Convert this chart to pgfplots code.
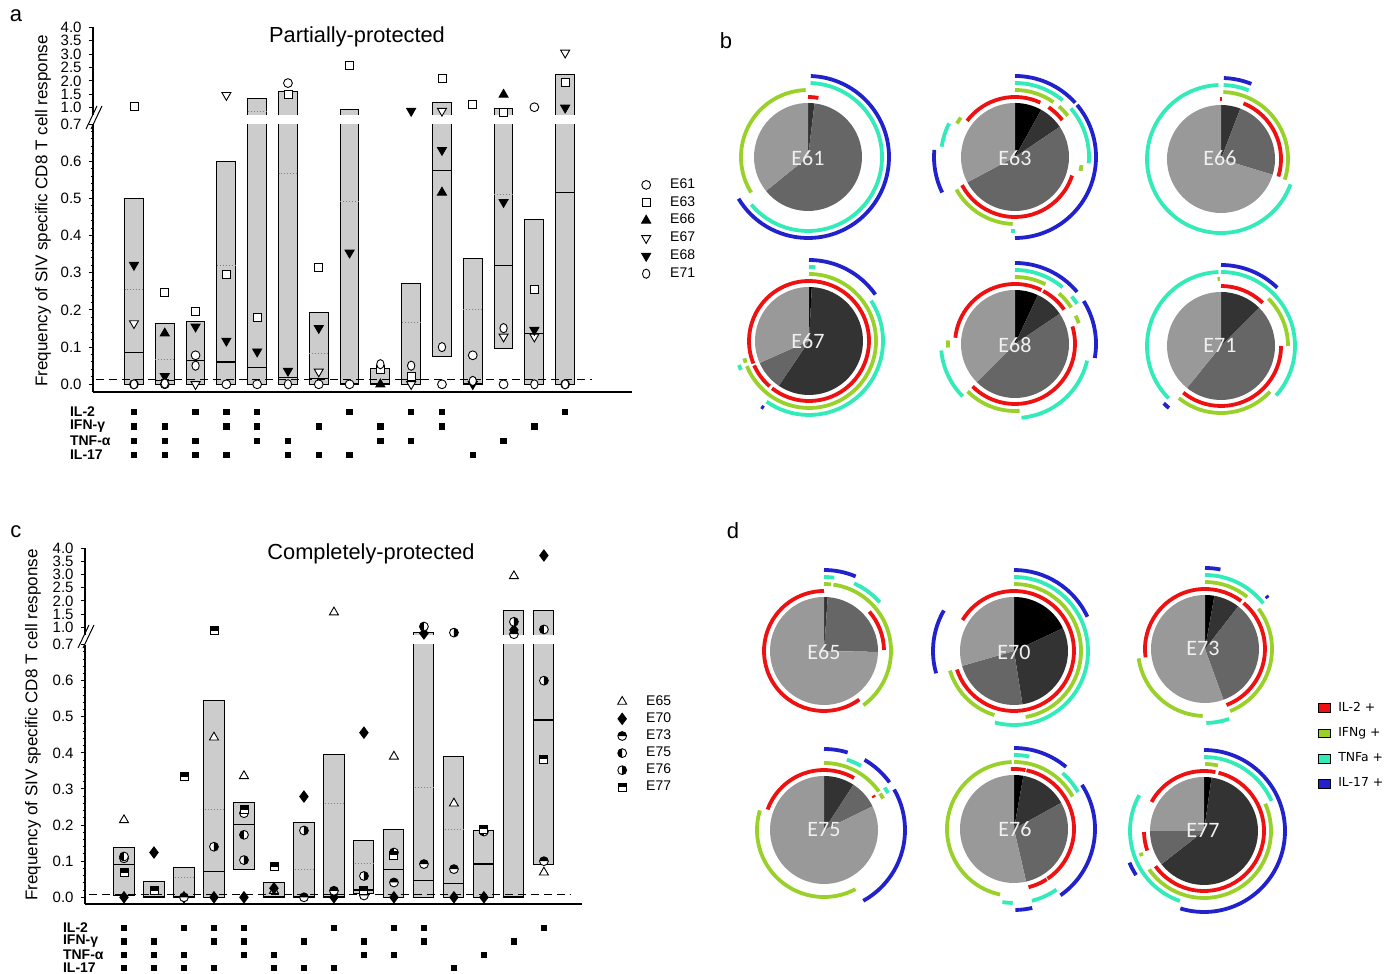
\documentclass[border=0pt]{standalone}
\usepackage{fontspec}
\setmainfont{Liberation Sans}
\newfontfamily\carlito{Carlito}
\newfontfamily\dejavu{DejaVu Sans}
\usepackage{pgfplots}
\usepackage{pgfplotstable}
\pgfplotsset{compat=1.18}
\usepgfplotslibrary{statistics}

\definecolor{barfill}{HTML}{CCCCCC}
\definecolor{cR}{HTML}{EE1111}
\definecolor{cG}{HTML}{99D12A}
\definecolor{cC}{HTML}{33EBB8}
\definecolor{cB}{HTML}{2222CC}
\definecolor{wk}{HTML}{000000}
\definecolor{wd}{HTML}{333333}
\definecolor{wm}{HTML}{666666}
\definecolor{wl}{HTML}{999999}
\definecolor{labcol}{HTML}{F0F0F0}

% custom marks
\pgfdeclareplotmark{ell}{%
  \pgfpathellipse{\pgfpointorigin}{\pgfqpoint{0.8\pgfplotmarksize}{0pt}}{\pgfqpoint{0pt}{\pgfplotmarksize}}%
  \pgfusepathqfillstroke}
\pgfdeclareplotmark{htop}{%
  \pgfpathcircle{\pgfpointorigin}{\pgfplotmarksize}%
  \pgfsetfillcolor{white}\pgfusepathqfillstroke
  \pgfpathmoveto{\pgfqpoint{\pgfplotmarksize}{0pt}}%
  \pgfpatharc{0}{180}{\pgfplotmarksize}\pgfpathclose
  \pgfsetfillcolor{black}\pgfusepathqfill}
\pgfdeclareplotmark{hleft}{%
  \pgfpathcircle{\pgfpointorigin}{\pgfplotmarksize}%
  \pgfsetfillcolor{white}\pgfusepathqfillstroke
  \pgfpathmoveto{\pgfqpoint{0pt}{\pgfplotmarksize}}%
  \pgfpatharc{90}{270}{\pgfplotmarksize}\pgfpathclose
  \pgfsetfillcolor{black}\pgfusepathqfill}
\pgfdeclareplotmark{hright}{%
  \pgfpathcircle{\pgfpointorigin}{\pgfplotmarksize}%
  \pgfsetfillcolor{white}\pgfusepathqfillstroke
  \pgfpathmoveto{\pgfqpoint{0pt}{-\pgfplotmarksize}}%
  \pgfpatharc{-90}{90}{\pgfplotmarksize}\pgfpathclose
  \pgfsetfillcolor{black}\pgfusepathqfill}
\pgfdeclareplotmark{sqtop}{%
  \pgfpathrectangle{\pgfqpoint{-\pgfplotmarksize}{-\pgfplotmarksize}}{\pgfqpoint{2\pgfplotmarksize}{2\pgfplotmarksize}}%
  \pgfsetfillcolor{white}\pgfusepathqfillstroke
  \pgfpathrectangle{\pgfqpoint{-\pgfplotmarksize}{0pt}}{\pgfqpoint{2\pgfplotmarksize}{\pgfplotmarksize}}%
  \pgfsetfillcolor{black}\pgfusepathqfill}

% ---- panel a data
\pgfplotstableread{
x lo hi med
1 0 0.50 0.085
2 0 0.163 0.01
3 0 0.169 0.064
4 0 0.598 0.06
5 0 1.34 0.045
6 0 1.59 0.018
7 0 0.194 0.015
8 0 0.94 0.003
9 0 0.042 0.002
10 0 0.271 0.012
11 0.074 1.20 0.575
12 0 0.339 0.003
13 0.097 0.975 0.32
14 0 0.444 0.137
15 0 2.23 0.516
}\barsA
\pgfplotstableread{
x m
1 0.254
2 0.067
4 0.319
5 0.853
6 0.567
7 0.083
8 0.491
10 0.167
12 0.20
13 0.511
}\meanA
\pgfplotstableread{
x y
1 0
2 0
3 0.078
4 0
5 0
6 1.92
7 0
8 0
11 0
12 0.078
13 0
14 1.02
15 0
}\aEA
\pgfplotstableread{
x y
1 1.04
2 0.247
3 0.197
4 0.296
5 0.179
6 1.49
7 0.314
8 2.59
9 0.04
10 0.021
11 2.08
12 1.12
13 0.83
14 0.254
15 1.96
}\aEB
\pgfplotstableread{
x y
2 0.137
9 0.0
11 0.516
13 1.49
}\aEC
\pgfplotstableread{
x y
1 0.164
3 0.0
4 1.47
7 0.034
10 0.0
11 0.88
13 0.128
14 0.128
15 3.05
}\aED
\pgfplotstableread{
x y
1 0.321
2 0.022
3 0.155
4 0.117
5 0.088
6 0.036
7 0.151
8 0.354
10 0.88
11 0.63
12 0.0
13 0.49
14 0.146
15 1.0
}\aEE
\pgfplotstableread{
x y
1 0
2 0.002
3 0.05
6 0
9 0.054
10 0.05
11 0.10
12 0.009
13 0.151
14 0
15 0
}\aEF

% ---- panel c data
\pgfplotstableread{
x lo hi med
1 0.005 0.138 0.09
2 0 0.043 0.001
3 0 0.082 0.001
4 0 0.544 0.071
5 0.077 0.262 0.202
6 0 0.04 0.001
7 0 0.206 0.001
8 0 0.395 0.001
9 0.01 0.158 0.02
10 0 0.188 0.078
11 0 0.80 0.047
12 0 0.39 0.039
13 0 0.185 0.092
14 0 1.63 0.001
15 0.09 1.63 0.491
}\barsC
\pgfplotstableread{
x m
3 0.055
4 0.242
7 0.078
8 0.259
9 0.094
11 0.304
12 0.188
}\meanC
\pgfplotstableread{
x y
1 0.214
4 0.443
5 0.336
6 0.018
8 1.57
10 0.39
12 0.26
14 2.94
15 0.069
}\cEA
\pgfplotstableread{
x y
1 0
2 0.124
3 0
4 0
5 0
6 0.025
7 0.279
8 0
9 0.456
10 0
11 0.77
12 0
13 0
14 0.9
15 3.72
}\cEB
\pgfplotstableread{
x y
1 0.108
3 0
5 0.233
7 0
8 0.018
9 0.005
10 0.041
11 0.092
12 0.078
14 0.74
15 0.1
}\cEC
\pgfplotstableread{
x y
1 0.113
5 0.173
10 0.124
11 1.03
13 0.182
15 0.92
}\cED
\pgfplotstableread{
x y
4 0.14
5 0.103
7 0.185
9 0.059
12 0.8
14 1.21
15 0.6
}\cEE
\pgfplotstableread{
x y
1 0.068
2 0.018
3 0.334
4 0.87
5 0.242
6 0.085
9 0.018
10 0.117
13 0.188
15 0.382
}\cEF

% ---- pies: centres (px), wedges and arcs (degrees clockwise from 12 o'clock)
\pgfplotstableread{
cx cy
808 157
1015 157
1221 159
809 341
1015 344
1221 346
824 651
1014 651
1205 649
824 830
1014 829
1204 831
}\pies
\pgfplotstableread{
p a b s
0 0 7 wd
0 7 231 wm
0 231 360 wl
1 0 29 wk
1 29 56 wd
1 56 242 wm
1 242 360 wl
2 0 21 wd
2 21 107 wm
2 107 360 wl
3 0 3 wk
3 3 214 wd
3 214 246 wm
3 246 360 wl
4 0 25 wk
4 25 56 wd
4 56 225 wm
4 225 360 wl
5 0 45 wd
5 45 219 wm
5 219 360 wl
6 0 4 wd
6 4 91 wm
6 91 360 wl
7 0 65 wk
7 65 171 wd
7 171 254 wm
7 254 360 wl
8 0 10 wk
8 10 38 wd
8 38 160 wm
8 160 360 wl
9 0 33 wd
9 33 64 wm
9 64 360 wl
10 0 10 wk
10 10 61 wd
10 61 167 wm
10 167 360 wl
11 0 8 wk
11 8 232 wd
11 232 270 wm
11 270 360 wl
}\wedges
\pgfplotstableread{
p r a b c
0 1 0 10 cR
0 2 238 358 cG
0 3 2 230 cC
0 4 2 239 cB
1 4 0 48 cB
1 3 0 40 cC
1 3 49 95 cC
1 2 0 35 cG
1 2 41 52 cG
1 2 97 102 cG
1 2 300 306 cG
1 2 182 241 cG
1 1 307 385 cR
1 1 34 52 cR
1 1 108 242 cR
1 4 244 275 cB
1 3 278 297 cC
1 4 50 180 cB
1 3 180 183 cC
2 4 2 22 cB
2 3 2 22 cC
2 3 110 358 cC
2 2 2 108 cG
2 1 22 107 cR
2 1 359 361 cR
3 4 0 55 cB
3 3 0 5 cC
3 2 0 248 cG
3 1 248 578 cR
3 1 221 246 cR
3 3 57 215 cC
3 3 247 251 cC
3 2 251 255 cG
3 4 214 216 cB
4 4 0 50 cB
4 3 0 40 cC
4 3 50 57 cC
4 2 0 27 cG
4 2 41 57 cG
4 2 65 72 cG
4 1 276 386 cR
4 1 28 55 cR
4 1 73 225 cR
4 4 58 100 cB
4 3 103 175 cC
4 2 176 225 cG
4 2 267 273 cG
4 3 225 265 cC
5 4 0 44 cB
5 3 0 132 cC
5 3 225 358 cC
5 2 357 359 cG
5 2 45 90 cG
5 2 133 219 cG
5 1 0 44 cR
5 1 90 219 cR
5 4 220 225 cB
6 4 0 23 cB
6 3 0 8 cC
6 3 24 49 cC
6 2 0 6 cG
6 2 8 144 cG
6 1 144 360 cR
6 1 49 89 cR
7 4 0 65 cB
7 3 0 195 cC
7 2 0 170 cG
7 2 197 253 cG
7 1 301 612 cR
7 4 254 300 cB
8 4 0 11 cB
8 3 0 52 cC
8 3 161 179 cC
8 2 0 39 cG
8 2 53 158 cG
8 2 182 262 cG
8 1 262 397 cR
8 1 40 159 cR
8 4 49 51 cB
9 4 0 17 cB
9 4 30 54 cB
9 4 60 151 cB
9 3 18 30 cC
9 3 55 60 cC
9 2 0 55 cG
9 2 57 62 cG
9 2 152 287 cG
9 1 290 390 cR
9 1 55 57 cR
10 4 0 40 cB
10 4 57 145 cB
10 4 167 179 cB
10 3 0 12 cC
10 3 41 60 cC
10 3 145 166 cC
10 3 181 189 cC
10 2 0 61 cG
10 2 192 358 cG
10 1 357 371 cR
10 1 12 146 cR
10 1 147 166 cR
11 4 0 197 cB
11 4 237 247 cB
11 3 0 66 cC
11 3 199 299 cC
11 2 1 12 cG
11 2 66 235 cG
11 2 248 251 cG
11 1 299 371 cR
11 1 14 234 cR
11 1 251 269 cR
}\arcs
\pgfplotstablegetrowsof{\wedges}\pgfmathtruncatemacro\nW{\pgfplotsretval-1}
\pgfplotstablegetrowsof{\arcs}\pgfmathtruncatemacro\nA{\pgfplotsretval-1}

% floating bars (min-max box with median line) from a table
\newcommand\drawbars[1]{%
  \pgfplotstablegetrowsof{#1}\pgfmathtruncatemacro\nB{\pgfplotsretval-1}%
  \pgfplotsforeachungrouped \j in {0,...,\nB}{%
    \pgfplotstablegetelem{\j}{x}\of#1\edef\bx{\pgfplotsretval}%
    \pgfplotstablegetelem{\j}{lo}\of#1\edef\blo{\pgfplotsretval}%
    \pgfplotstablegetelem{\j}{hi}\of#1\edef\bhi{\pgfplotsretval}%
    \pgfplotstablegetelem{\j}{med}\of#1\edef\bmed{\pgfplotsretval}%
    \edef\temp{\noexpand\addplot[boxplot prepared={draw position=\bx,
      lower whisker=\blo, lower quartile=\blo, median=\bmed,
      upper quartile=\bhi, upper whisker=\bhi}, draw=black, fill=barfill,
      forget plot] coordinates {};}%
    \temp}}

\pgfplotsset{
  tickfont/.style={tick label style={font=\fontsize{7.5}{8}\selectfont},
    /pgf/number format/assume math mode=true},
  boxstyle/.style={boxplot/draw direction=y,
    boxplot/every box/.style={draw=black, fill=barfill, line width=0.5pt},
    boxplot/every median/.style={draw=black, line width=0.6pt},
    boxplot/every whisker/.style={draw=none}, boxplot/whisker extend=0},
  common/.style={scale only axis, anchor=south west, xtick=\empty, tick align=outside,
    major tick length=2.2pt, minor tick length=1.2pt, tickfont, boxstyle,
    axis line style={line width=0.6pt}, tick style={black, line width=0.5pt},
    yticklabel style={/pgf/number format/.cd, fixed, fixed zerofill, precision=1}},
  lowbase/.style={common, axis x line*=bottom, axis y line*=left,
    ytick={0,0.1,0.2,0.3,0.4,0.5,0.6,0.7}, minor y tick num=4},
  upbase/.style={common, axis x line=none, axis y line*=left,
    ytick={1,1.5,2,2.5,3,3.5,4}},
  rowbase/.style={scale only axis, anchor=south west, ymin=0.5, ymax=4.5,
    axis line style={draw=none}, xtick=\empty, ytick={1,2,3,4},
    yticklabels={IL-17,TNF-α,IFN-γ,IL-2}, major tick length=0pt,
    yticklabel style={anchor=west, font=\bfseries\fontsize{7}{8}\selectfont}, clip=false},
  mk/.style={only marks, black, line width=0.45pt},
  lowmk/.style={restrict y to domain=-1:0.7},
  upmk/.style={restrict y to domain=0.7:5},
  meanln/.style={only marks, mark=-, mark options={gray, densely dotted, line width=0.5pt}},
  mEA/.style={mark=*, mark size=2.2pt, mark options={fill=white}},
  mEB/.style={mark=square*, mark size=2pt, mark options={fill=white}},
  mEC/.style={mark=triangle*, mark size=2.6pt, mark options={fill=black}},
  mED/.style={mark=triangle*, mark size=2.6pt, mark options={fill=white, rotate=180}},
  mEE/.style={mark=triangle*, mark size=2.6pt, mark options={fill=black, rotate=180}},
  mEF/.style={mark=ell, mark size=2.3pt, mark options={fill=white}},
  nEA/.style={mark=triangle*, mark size=2.6pt, mark options={fill=white}},
  nEB/.style={mark=diamond*, mark size=2.8pt, mark options={fill=black}},
  nEC/.style={mark=htop, mark size=2.2pt},
  nED/.style={mark=hleft, mark size=2.2pt},
  nEE/.style={mark=hright, mark size=2.2pt},
  nEF/.style={mark=sqtop, mark size=2pt},
  leg/.style={legend style={draw=none, fill=none, inner sep=0pt,
    font=\fontsize{7}{8}\selectfont, nodes={inner ysep=0.5pt}}, legend cell align=left,
    legend image code/.code={\path[draw=none, fill=none] (0pt,0pt) -- (13pt,0pt);
      \draw[##1] plot coordinates {(3pt,0pt)};}},
}

\begin{document}
\begin{tikzpicture}
% ================= panel a
\begin{axis}[lowbase, at={(46.5pt,291pt)}, width=269.5pt, height=133.95pt,
  xmin=-0.33, xmax=17.17, ymin=-0.0207, ymax=0.7, boxplot/box extend=0.61,
  leg, legend style={at={(1.0144,0.802)}, anchor=north west, row sep=1.5pt}]
\drawbars{\barsA}
\addplot[meanln, mark size=4.7pt, lowmk, forget plot] table[x=x,y=m]{\meanA};
\addplot[black, dash pattern=on 4pt off 2.5pt, line width=0.5pt, forget plot]
  coordinates {(-0.23,0.0135) (15.87,0.0135)};
\addplot[mk, mEA, lowmk] table{\aEA}; \addlegendentry{E61}
\addplot[mk, mEB, lowmk] table{\aEB}; \addlegendentry{E63}
\addplot[mk, mEC, lowmk] table{\aEC}; \addlegendentry{E66}
\addplot[mk, mED, lowmk] table{\aED}; \addlegendentry{E67}
\addplot[mk, mEE, lowmk] table{\aEE}; \addlegendentry{E68}
\addplot[mk, mEF, lowmk] table{\aEF}; \addlegendentry{E71}
\end{axis}
\begin{axis}[upbase, at={(46.5pt,429.5pt)}, width=269.5pt, height=43.85pt,
  xmin=-0.33, xmax=17.17, ymin=0.73, ymax=4.0, boxplot/box extend=0.61]
\drawbars{\barsA}
\addplot[meanln, mark size=4.7pt, upmk] table[x=x,y=m]{\meanA};
\addplot[mk, mEA, upmk] table{\aEA};
\addplot[mk, mEB, upmk] table{\aEB};
\addplot[mk, mEC, upmk] table{\aEC};
\addplot[mk, mED, upmk] table{\aED};
\addplot[mk, mEE, upmk] table{\aEE};
\addplot[mk, mEF, upmk] table{\aEF};
\end{axis}
\begin{axis}[rowbase, at={(46.5pt,255.9pt)}, width=269.5pt, height=28.7pt,
  xmin=-0.33, xmax=17.17, yticklabel style={xshift=-15pt}]
\addplot[only marks, mark=square*, mark size=1.35pt, black] coordinates {
 (1,4)(3,4)(4,4)(5,4)(8,4)(10,4)(11,4)(15,4)
 (1,3)(2,3)(4,3)(5,3)(7,3)(9,3)(11,3)(14,3)
 (1,2)(2,2)(3,2)(5,2)(6,2)(9,2)(10,2)(13,2)
 (1,1)(2,1)(3,1)(4,1)(6,1)(7,1)(8,1)(12,1)};
\end{axis}

% ================= panel c
\begin{axis}[lowbase, at={(42.5pt,35pt)}, width=248.5pt, height=129.7pt,
  xmin=-0.3, xmax=16.27, ymin=-0.0186, ymax=0.7, boxplot/box extend=0.67,
  leg, legend style={at={(1.068,0.81)}, anchor=north west, row sep=1.2pt}]
\drawbars{\barsC}
\addplot[meanln, mark size=5pt, lowmk, forget plot] table[x=x,y=m]{\meanC};
\addplot[black, dash pattern=on 4pt off 2.5pt, line width=0.5pt, forget plot]
  coordinates {(-0.17,0.009) (15.9,0.009)};
\addplot[mk, nEA, lowmk] table{\cEA}; \addlegendentry{E65}
\addplot[mk, nEB, lowmk] table{\cEB}; \addlegendentry{E70}
\addplot[mk, nEC, lowmk] table{\cEC}; \addlegendentry{E73}
\addplot[mk, nED, lowmk] table{\cED}; \addlegendentry{E75}
\addplot[mk, nEE, lowmk] table{\cEE}; \addlegendentry{E76}
\addplot[mk, nEF, lowmk] table{\cEF}; \addlegendentry{E77}
\end{axis}
\begin{axis}[upbase, at={(42.5pt,169.5pt)}, width=248.5pt, height=43.45pt,
  xmin=-0.3, xmax=16.27, ymin=0.71, ymax=4.0, boxplot/box extend=0.67]
\drawbars{\barsC}
\addplot[mk, nEA, upmk] table{\cEA};
\addplot[mk, nEB, upmk] table{\cEB};
\addplot[mk, nEC, upmk] table{\cEC};
\addplot[mk, nED, upmk] table{\cED};
\addplot[mk, nEE, upmk] table{\cEE};
\addplot[mk, nEF, upmk] table{\cEF};
\end{axis}
\begin{axis}[rowbase, at={(42.5pt,-0.35pt)}, width=248.5pt, height=26.7pt,
  xmin=-0.3, xmax=16.27, yticklabel style={xshift=-14.5pt}]
\addplot[only marks, mark=square*, mark size=1.35pt, black] coordinates {
 (1,4)(3,4)(4,4)(5,4)(8,4)(10,4)(11,4)(15,4)
 (1,3)(2,3)(4,3)(5,3)(7,3)(9,3)(11,3)(14,3)
 (1,2)(2,2)(3,2)(5,2)(6,2)(9,2)(10,2)(13,2)
 (1,1)(2,1)(3,1)(4,1)(6,1)(7,1)(8,1)(12,1)};
\end{axis}

% ================= overlay: pies (b, d), texts, legend d
\begin{axis}[scale only axis, anchor=south west, at={(0pt,0pt)}, width=699pt, height=487pt,
  xmin=0, xmax=1398, ymin=0, ymax=974, hide axis, clip=false,
  legend style={at={(0.9425,0.2808)}, anchor=north west, draw=none, fill=none, inner sep=0pt,
    row sep=5.6pt, font=\dejavu\fontsize{6.2}{7}\selectfont, nodes={inner ysep=0.5pt}},
  legend cell align=left,
  legend image code/.code={\draw[#1] (0pt,-2.2pt) rectangle (6pt,2.2pt);
    \path[draw=none, fill=none] (8pt,0pt);}]
\pgfplotsforeachungrouped \i in {0,...,\nW}{%
  \pgfplotstablegetelem{\i}{p}\of\wedges\edef\pp{\pgfplotsretval}%
  \pgfplotstablegetelem{\i}{a}\of\wedges\edef\wa{\pgfplotsretval}%
  \pgfplotstablegetelem{\i}{b}\of\wedges\edef\wb{\pgfplotsretval}%
  \pgfplotstablegetelem{\i}{s}\of\wedges\edef\ws{\pgfplotsretval}%
  \pgfplotstablegetelem{\pp}{cx}\of\pies\edef\cx{\pgfplotsretval}%
  \pgfplotstablegetelem{\pp}{cy}\of\pies\edef\cy{\pgfplotsretval}%
  \pgfmathsetmacro\Cy{974-\cy}%
  \pgfmathsetmacro\X{\cx+54*sin(\wa)}%
  \pgfmathsetmacro\Y{\Cy+54*cos(\wa)}%
  \pgfmathsetmacro\sa{90-\wa}%
  \pgfmathsetmacro\ea{90-\wb}%
  \edef\temp{\noexpand\fill[\ws] (axis cs:\cx,\Cy) -- (axis cs:\X,\Y)
    arc[start angle=\sa, end angle=\ea, radius=27pt] -- cycle;}%
  \temp
}
\pgfplotsforeachungrouped \i in {0,...,\nA}{%
  \pgfplotstablegetelem{\i}{p}\of\arcs\edef\pp{\pgfplotsretval}%
  \pgfplotstablegetelem{\i}{r}\of\arcs\edef\rr{\pgfplotsretval}%
  \pgfplotstablegetelem{\i}{a}\of\arcs\edef\wa{\pgfplotsretval}%
  \pgfplotstablegetelem{\i}{b}\of\arcs\edef\wb{\pgfplotsretval}%
  \pgfplotstablegetelem{\i}{c}\of\arcs\edef\ac{\pgfplotsretval}%
  \pgfplotstablegetelem{\pp}{cx}\of\pies\edef\cx{\pgfplotsretval}%
  \pgfplotstablegetelem{\pp}{cy}\of\pies\edef\cy{\pgfplotsretval}%
  \pgfmathsetmacro\Rpx{53+7*\rr}%
  \pgfmathsetmacro\Rpt{\Rpx/2}%
  \pgfmathsetmacro\Cy{974-\cy}%
  \pgfmathsetmacro\X{\cx+\Rpx*sin(\wa)}%
  \pgfmathsetmacro\Y{\Cy+\Rpx*cos(\wa)}%
  \pgfmathsetmacro\sa{90-\wa}%
  \pgfmathsetmacro\ea{90-\wb}%
  \edef\temp{\noexpand\draw[\ac, line width=1.9pt] (axis cs:\X,\Y)
    arc[start angle=\sa, end angle=\ea, radius=\Rpt pt];}%
  \temp
}
\begin{scope}[font=\carlito\fontsize{11}{12}\selectfont, text=labcol]
\node at (axis cs:808,816) {E61};
\node at (axis cs:1015,816) {E63};
\node at (axis cs:1220,816) {E66};
\node at (axis cs:808,633) {E67};
\node at (axis cs:1015,629) {E68};
\node at (axis cs:1220,629) {E71};
\node at (axis cs:824,322) {E65};
\node at (axis cs:1014,322) {E70};
\node at (axis cs:1203,326) {E73};
\node at (axis cs:824,144) {E75};
\node at (axis cs:1015,145) {E76};
\node at (axis cs:1203,144) {E77};
\end{scope}
\begin{scope}[font=\fontsize{11}{12}\selectfont]
\node at (axis cs:16,958) {a};
\node at (axis cs:726,933) {b};
\node at (axis cs:16,442) {c};
\node at (axis cs:733,443) {d};
\end{scope}
\node[font=\fontsize{10.9}{12}\selectfont] at (axis cs:357,937) {Partially-protected};
\node[font=\fontsize{10.9}{12}\selectfont] at (axis cs:371,420) {Completely-protected};
\node[rotate=90, font=\fontsize{8.5}{10}\selectfont] at (axis cs:43,763)
  {Frequency of SIV specific CD8 T cell response};
\node[rotate=90, font=\fontsize{8.5}{10}\selectfont] at (axis cs:33,249)
  {Frequency of SIV specific CD8 T cell response};
% axis break marks
\draw[line width=0.5pt] (axis cs:86,845) -- (axis cs:97,868);
\draw[line width=0.5pt] (axis cs:91,845) -- (axis cs:102,868);
\draw[line width=0.5pt] (axis cs:78,326) -- (axis cs:89,349);
\draw[line width=0.5pt] (axis cs:83,326) -- (axis cs:94,349);
\addlegendimage{fill=cR, draw=black, line width=0.3pt}\addlegendentry{IL-2 +}
\addlegendimage{fill=cG, draw=black, line width=0.3pt}\addlegendentry{IFNg +}
\addlegendimage{fill=cC, draw=black, line width=0.3pt}\addlegendentry{TNFa +}
\addlegendimage{fill=cB, draw=black, line width=0.3pt}\addlegendentry{IL-17 +}
\end{axis}
\pgfresetboundingbox
\path (0pt,0pt) rectangle (699pt,487pt);
\end{tikzpicture}
\end{document}
